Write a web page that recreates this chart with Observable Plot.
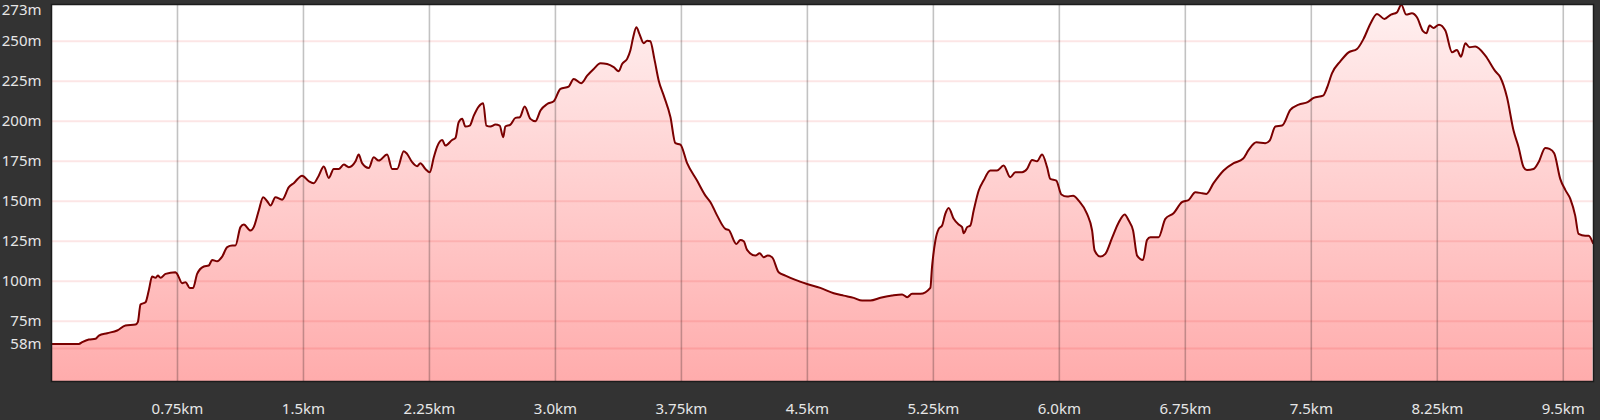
<!DOCTYPE html>
<html>
<head>
<meta charset="utf-8">
<script src="https://cdn.jsdelivr.net/npm/d3@7"></script>
<script src="https://cdn.jsdelivr.net/npm/@observablehq/plot@0.6"></script>
<style>
  html, body { margin: 0; padding: 0; background: #333333; }
  #chart svg { display: block; }
</style>
</head>
<body>
<div id="chart"></div>
<script>
// distance along the route (km)
const distKm = [
  0.000, 0.163, 0.183, 0.222, 0.262, 0.282, 0.332, 0.391, 0.440, 0.500, 0.514, 0.530, 0.560, 0.579, 0.599,
  0.619, 0.633, 0.649, 0.679, 0.738, 0.748, 0.778, 0.798, 0.823, 0.843, 0.867, 0.907, 0.936, 0.957, 0.986,
  1.016, 1.046, 1.076, 1.095, 1.125, 1.145, 1.185, 1.204, 1.234, 1.260, 1.284, 1.304, 1.333, 1.373, 1.413,
  1.442, 1.492, 1.532, 1.561, 1.591, 1.621, 1.651, 1.680, 1.710, 1.740, 1.770, 1.810, 1.829, 1.849, 1.889,
  1.918, 1.948, 1.998, 2.028, 2.058, 2.097, 2.117, 2.147, 2.177, 2.196, 2.226, 2.252, 2.276, 2.296, 2.326,
  2.345, 2.385, 2.405, 2.424, 2.445, 2.464, 2.490, 2.514, 2.543, 2.570, 2.589, 2.613, 2.643, 2.668, 2.689,
  2.702, 2.732, 2.762, 2.788, 2.817, 2.851, 2.881, 2.911, 2.951, 2.990, 3.030, 3.079, 3.109, 3.153, 3.189,
  3.228, 3.268, 3.308, 3.347, 3.377, 3.397, 3.427, 3.446, 3.463, 3.482, 3.500, 3.526, 3.546, 3.565, 3.589,
  3.615, 3.645, 3.685, 3.714, 3.744, 3.784, 3.843, 3.893, 3.923, 3.963, 4.012, 4.032, 4.077, 4.101, 4.121,
  4.141, 4.190, 4.216, 4.240, 4.264, 4.290, 4.329, 4.369, 4.429, 4.498, 4.577, 4.657, 4.716, 4.776, 4.826,
  4.875, 4.935, 5.004, 5.064, 5.094, 5.123, 5.173, 5.232, 5.242, 5.262, 5.282, 5.302, 5.321, 5.341, 5.371,
  5.401, 5.421, 5.430, 5.451, 5.470, 5.490, 5.520, 5.549, 5.589, 5.629, 5.668, 5.708, 5.738, 5.778, 5.808,
  5.838, 5.867, 5.897, 5.927, 5.946, 5.982, 6.012, 6.046, 6.082, 6.115, 6.165, 6.195, 6.210, 6.244, 6.274,
  6.314, 6.354, 6.389, 6.413, 6.439, 6.463, 6.498, 6.522, 6.542, 6.591, 6.631, 6.680, 6.730, 6.770, 6.810,
  6.850, 6.875, 6.918, 6.978, 7.038, 7.093, 7.127, 7.173, 7.226, 7.252, 7.286, 7.326, 7.375, 7.425, 7.478,
  7.514, 7.570, 7.593, 7.623, 7.673, 7.722, 7.772, 7.811, 7.851, 7.891, 7.935, 7.974, 8.010, 8.036, 8.065,
  8.099, 8.129, 8.165, 8.185, 8.204, 8.228, 8.260, 8.298, 8.338, 8.367, 8.391, 8.417, 8.442, 8.476, 8.536,
  8.595, 8.625, 8.665, 8.704, 8.734, 8.764, 8.784, 8.823, 8.853, 8.893, 8.918, 8.946, 8.982, 9.012, 9.042,
  9.071, 9.091, 9.131, 9.151, 9.177
];

// elevation (m)
const elevM = [
  60.8, 60.8, 61.9, 63.5, 64.0, 66.0, 67.5, 69.2, 72.3, 72.9, 74.4, 85.4, 86.9, 94.2, 102.9,
  102.1, 103.5, 102.1, 104.6, 105.6, 104.6, 98.8, 99.4, 95.8, 95.8, 104.6, 109.2, 109.8, 113.3, 112.5,
  115.4, 121.3, 122.3, 122.3, 133.8, 135.4, 131.7, 133.8, 144.2, 152.5, 150.0, 147.3, 152.5, 151.0, 158.8,
  161.3, 166.0, 162.5, 161.3, 166.0, 171.7, 164.6, 170.2, 170.2, 172.9, 171.3, 175.0, 179.2, 173.8, 170.8,
  177.5, 175.4, 179.2, 170.2, 170.2, 181.3, 179.6, 174.4, 171.9, 173.8, 170.2, 168.1, 177.5, 184.2, 188.3,
  184.8, 188.3, 189.6, 199.4, 201.5, 196.7, 197.3, 203.5, 209.2, 211.3, 197.3, 196.7, 197.9, 197.3, 190.0,
  196.7, 197.9, 202.1, 202.5, 209.2, 201.5, 200.0, 206.7, 210.8, 212.5, 220.2, 221.7, 226.5, 223.8, 228.5,
  232.7, 236.3, 235.8, 233.8, 231.3, 235.8, 239.0, 244.2, 252.5, 258.8, 254.6, 248.8, 250.4, 250.0, 239.0,
  225.4, 216.0, 202.5, 186.3, 185.4, 173.8, 162.9, 153.5, 149.4, 141.0, 132.7, 132.0, 123.3, 125.8, 125.0,
  119.6, 116.0, 117.5, 115.0, 116.0, 115.0, 105.6, 103.5, 100.8, 98.3, 95.8, 92.5, 91.0, 89.6, 87.9,
  87.9, 89.6, 91.0, 91.7, 90.0, 92.1, 92.1, 95.8, 108.8, 125.4, 132.7, 134.8, 142.1, 145.8, 139.0,
  135.4, 133.8, 130.0, 133.8, 134.8, 144.2, 156.7, 162.9, 169.2, 169.2, 172.3, 165.0, 168.1, 168.1, 170.2,
  175.8, 175.0, 179.2, 171.3, 164.0, 162.9, 154.2, 152.9, 153.5, 150.4, 142.1, 131.7, 119.2, 115.4, 117.1,
  127.1, 136.9, 141.7, 137.9, 131.7, 116.0, 113.3, 125.8, 127.5, 127.5, 139.0, 142.5, 149.4, 150.8, 155.6,
  155.0, 154.6, 161.3, 169.2, 173.8, 176.5, 182.1, 186.9, 186.3, 187.9, 196.7, 197.3, 207.1, 210.4, 211.9,
  214.6, 216.0, 220.8, 230.0, 237.5, 243.1, 245.2, 251.5, 260.8, 267.1, 264.0, 266.7, 268.1, 272.8, 266.7,
  267.5, 265.0, 256.3, 255.0, 259.8, 258.3, 260.4, 256.7, 243.1, 244.6, 240.4, 248.8, 246.3, 246.7, 241.0,
  231.3, 227.5, 215.0, 194.2, 183.8, 171.3, 169.6, 170.2, 174.4, 183.3, 182.7, 180.0, 164.0, 157.1, 151.5,
  141.0, 129.6, 128.5, 128.5, 123.8
];

// axis ticks and labels
const xTicks = [0.75, 1.5, 2.25, 3.0, 3.75, 4.5, 5.25, 6.0, 6.75, 7.5, 8.25, 9.0];
const xLabels = ["0.75km", "1.5km", "2.25km", "3.0km", "3.75km", "4.5km", "5.25km", "6.0km", "6.75km", "7.5km", "8.25km", "9.5km"];
const yTicks = [75, 100, 125, 150, 175, 200, 225, 250];
const yMin = 58;
const yMax = 273;
const yGrid = [58, 75, 100, 125, 150, 175, 200, 225, 250];
const xDomain = [0, 9.18];
const yDomain = [37.3, 273];

const data = distKm.map((d, i) => ({d, e: elevM[i]}));
const xLabelOf = new Map(xTicks.map((t, i) => [t, xLabels[i]]));

const labelColor = "#e6e6e6";

const chart = Plot.plot({
  width: 1600,
  height: 420,
  marginLeft: 51,
  marginRight: 7,
  marginTop: 4,
  marginBottom: 39,
  x: {domain: xDomain, label: null},
  y: {domain: yDomain, label: null},
  style: {background: "#333333", color: labelColor, fontFamily: "'Noto Sans', sans-serif", fontSize: "15px"},
  marks: [
    Plot.frame({fill: "white"}),
    Plot.areaY(data, {x: "d", y1: yDomain[0], y2: "e", fill: "url(#elevGrad)", curve: "monotone-x"}),
    Plot.ruleY(yGrid, {stroke: "#e00000", strokeOpacity: 0.1, strokeWidth: 2}),
    Plot.ruleX(xTicks, {stroke: "#000000", strokeOpacity: 0.24, strokeWidth: 1.6}),
    Plot.line(data, {x: "d", y: "e", stroke: "#7a0000", strokeWidth: 2, curve: "monotone-x"}),
    Plot.frame({stroke: "#1c1c1c", strokeWidth: 1.5}),
    Plot.axisX(xTicks, {label: null, tickSize: 0, tickPadding: 22, tickFormat: d => xLabelOf.get(d), fill: labelColor, fontSize: 15}),
    Plot.axisY(yTicks, {label: null, tickSize: 0, tickPadding: 10, tickFormat: d => d + "m", fill: labelColor, fontSize: 15}),
    Plot.text([yMax], {y: d => d, text: d => d + "m", frameAnchor: "left", textAnchor: "end", dx: -10, dy: 6, fill: labelColor, fontSize: 15}),
    Plot.text([yMin], {y: d => d, text: d => d + "m", frameAnchor: "left", textAnchor: "end", dx: -10, dy: -4, fill: labelColor, fontSize: 15})
  ]
});

const defs = d3.select(chart).insert("defs", ":first-child");
const grad = defs.append("linearGradient")
  .attr("id", "elevGrad")
  .attr("gradientUnits", "userSpaceOnUse")
  .attr("x1", 0).attr("x2", 0).attr("y1", 4).attr("y2", 381);
grad.append("stop").attr("offset", "0%").attr("stop-color", "#fff0f0");
grad.append("stop").attr("offset", "100%").attr("stop-color", "#ffacac");

document.getElementById("chart").appendChild(chart);
</script>
</body>
</html>
